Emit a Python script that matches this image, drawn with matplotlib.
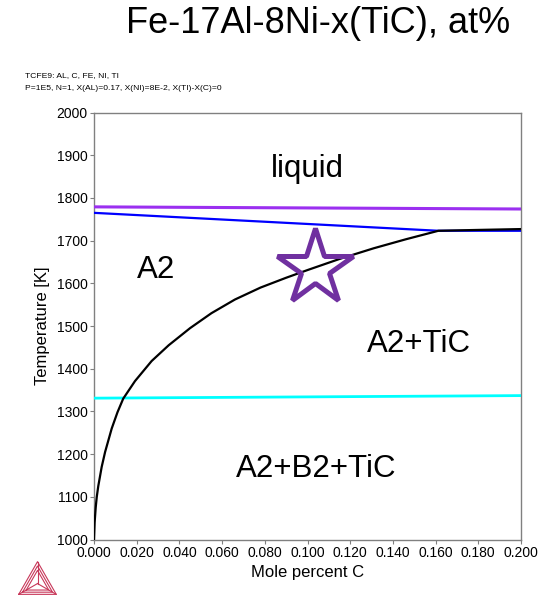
import matplotlib.pyplot as plt
import numpy as np

plt.rcParams['font.family'] = ['Liberation Sans', 'DejaVu Sans']

# Phase boundaries, x = mole percent C, T in K
c_solvus = [0.0, 0.0003, 0.0008, 0.0013, 0.002, 0.0036, 0.0052, 0.0083, 0.011,
            0.0137, 0.0192, 0.027, 0.035, 0.045, 0.055, 0.066, 0.078, 0.090,
            0.100, 0.115, 0.131, 0.146, 0.1613, 0.18, 0.2]
t_solvus = [1000, 1040, 1075, 1100, 1125, 1170, 1205, 1260, 1298,
            1330, 1371, 1418, 1455, 1495, 1530, 1562, 1590, 1613,
            1631, 1657, 1682, 1703, 1723, 1725, 1727]

c_solidus = [0.0, 0.1613, 0.2]
t_solidus = [1765, 1723, 1723]

c_liquidus = [0.0, 0.2]
t_liquidus = [1779, 1774]

c_b2 = [0.0, 0.2]
t_b2 = [1331, 1337]

star_c, star_t = 0.1034, 1637

region_labels = ['liquid', 'A2', 'A2+TiC', 'A2+B2+TiC']
region_c = [0.0998, 0.0293, 0.1523, 0.104]
region_t = [1848, 1612, 1438, 1147]

xticks = np.arange(0, 0.2001, 0.02)
yticks = np.arange(1000, 2001, 100)

fig = plt.figure(figsize=(5.38, 5.96), dpi=100)
ax = fig.add_axes([94 / 538, 56.5 / 596, 427 / 538, 427 / 596])

ax.plot(c_liquidus, t_liquidus, color='#9B30F0', lw=2.2, zorder=3)
ax.plot(c_solidus, t_solidus, color='#0000FF', lw=1.6, zorder=3)
ax.plot(c_solvus, t_solvus, color='black', lw=1.6, zorder=4)
ax.plot(c_b2, t_b2, color='#00FFFF', lw=2.0, zorder=3)

ax.plot([star_c], [star_t], marker='*', ms=57, mfc='none', mec='#7030A0',
        mew=3.6, zorder=5)

for lab, c, t in zip(region_labels, region_c, region_t):
    ax.text(c, t, lab, fontsize=22.5, ha='center', va='baseline')

ax.set_xlim(0, 0.2)
ax.set_ylim(1000, 2000)
ax.set_xticks(xticks)
ax.set_xticklabels(['%.3f' % v for v in xticks])
ax.set_yticks(yticks)
ax.tick_params(direction='out', length=3, width=0.8, color='#808080',
               labelsize=10, pad=1.5)
for s in ax.spines.values():
    s.set_color('#808080')
    s.set_linewidth(1.0)

ax.set_xlabel('Mole percent C', fontsize=12, labelpad=4)
ax.set_ylabel('Temperature [K]', fontsize=12, labelpad=5)

fig.text(0.948, 1 - 33 / 596, 'Fe-17Al-8Ni-x(TiC), at%', fontsize=26,
         ha='right', va='baseline')
fig.text(25 / 538, 1 - 77 / 596, 'TCFE9: AL, C, FE, NI, TI', fontsize=6.1,
         va='baseline')
fig.text(25 / 538, 1 - 90 / 596,
         'P=1E5, N=1, X(AL)=0.17, X(NI)=8E-2, X(TI)-X(C)=0', fontsize=6.1,
         va='baseline')

# small triangle logo in the corner
lg = fig.add_axes([18 / 538, 1 / 596, 39 / 538, 34 / 596])
lg.set_xlim(-0.02, 1.02)
lg.set_ylim(-0.02, 1.02)
lg.axis('off')
red = '#C8385A'
cx, cy = 0.5, 0.33
outer = [(0, 0), (1, 0), (0.5, 1)]
for k in [1.0, 0.8, 0.6]:
    pts = [(cx + k * (px - cx), cy + k * (py - cy)) for px, py in outer]
    pts.append(pts[0])
    lg.plot([p[0] for p in pts], [p[1] for p in pts], color=red, lw=0.8)
for px, py in outer:
    lg.plot([px, cx], [py, cy], color=red, lw=0.8)

fig.savefig('out.png', dpi=100)
